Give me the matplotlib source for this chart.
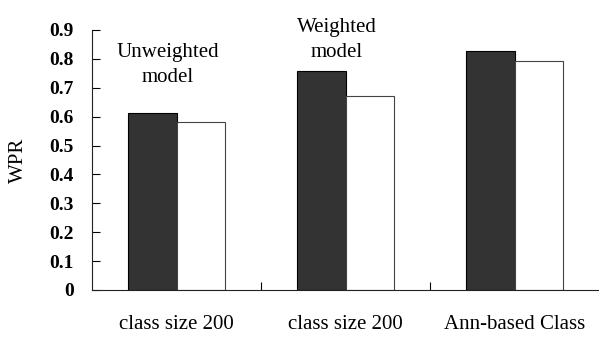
import matplotlib.pyplot as plt
import numpy as np

plt.rcParams['font.family'] = 'Liberation Serif'

categories = ['class size 200', 'class size 200', 'Ann-based Class']
dark_vals = [0.613, 0.758, 0.829]
white_vals = [0.580, 0.673, 0.791]
yticks = [0, 0.1, 0.2, 0.3, 0.4, 0.5, 0.6, 0.7, 0.8, 0.9]
ytick_labels = ['0', '0.1', '0.2', '0.3', '0.4', '0.5', '0.6', '0.7', '0.8', '0.9']

fig = plt.figure(figsize=(5.99, 3.38), dpi=100)
ax = fig.add_axes([92 / 599, 1 - 290 / 338, 1 - 92 / 599, (290 - 30) / 338])

x = np.arange(len(categories))
w = 0.287
ax.bar(x - w / 2, dark_vals, w, color='#333333', edgecolor='black', linewidth=0.8)
ax.bar(x + w / 2, white_vals, w, color='white', edgecolor='#444444', linewidth=0.8)

ax.set_xlim(-0.5, 2.5)
ax.set_ylim(0, 0.9)
ax.set_yticks(yticks)
ax.set_yticklabels(ytick_labels, fontsize=14, fontweight='bold')
ax.set_xticks(x)
ax.set_xticklabels(categories, fontsize=15)
ax.set_xticks([0.5, 1.5], minor=True)
ax.tick_params(axis='x', which='major', length=0, pad=18)
ax.tick_params(axis='x', which='minor', direction='in', length=6, width=0.8)
ax.tick_params(axis='y', direction='in', length=6, width=0.8, pad=13)

for s in ['top', 'right']:
    ax.spines[s].set_visible(False)
ax.spines['left'].set_color('#222222')
ax.spines['bottom'].set_color('#222222')

ax.set_ylabel('WPR', fontsize=15)
ax.yaxis.set_label_coords(-64 / 507, 0.5)

ax.text(-0.05, 0.779, 'Unweighted\nmodel', ha='center', va='center', fontsize=15, linespacing=1.45)
ax.text(0.95, 0.865, 'Weighted\nmodel', ha='center', va='center', fontsize=15, linespacing=1.45)

fig.savefig('out.png', dpi=100)
